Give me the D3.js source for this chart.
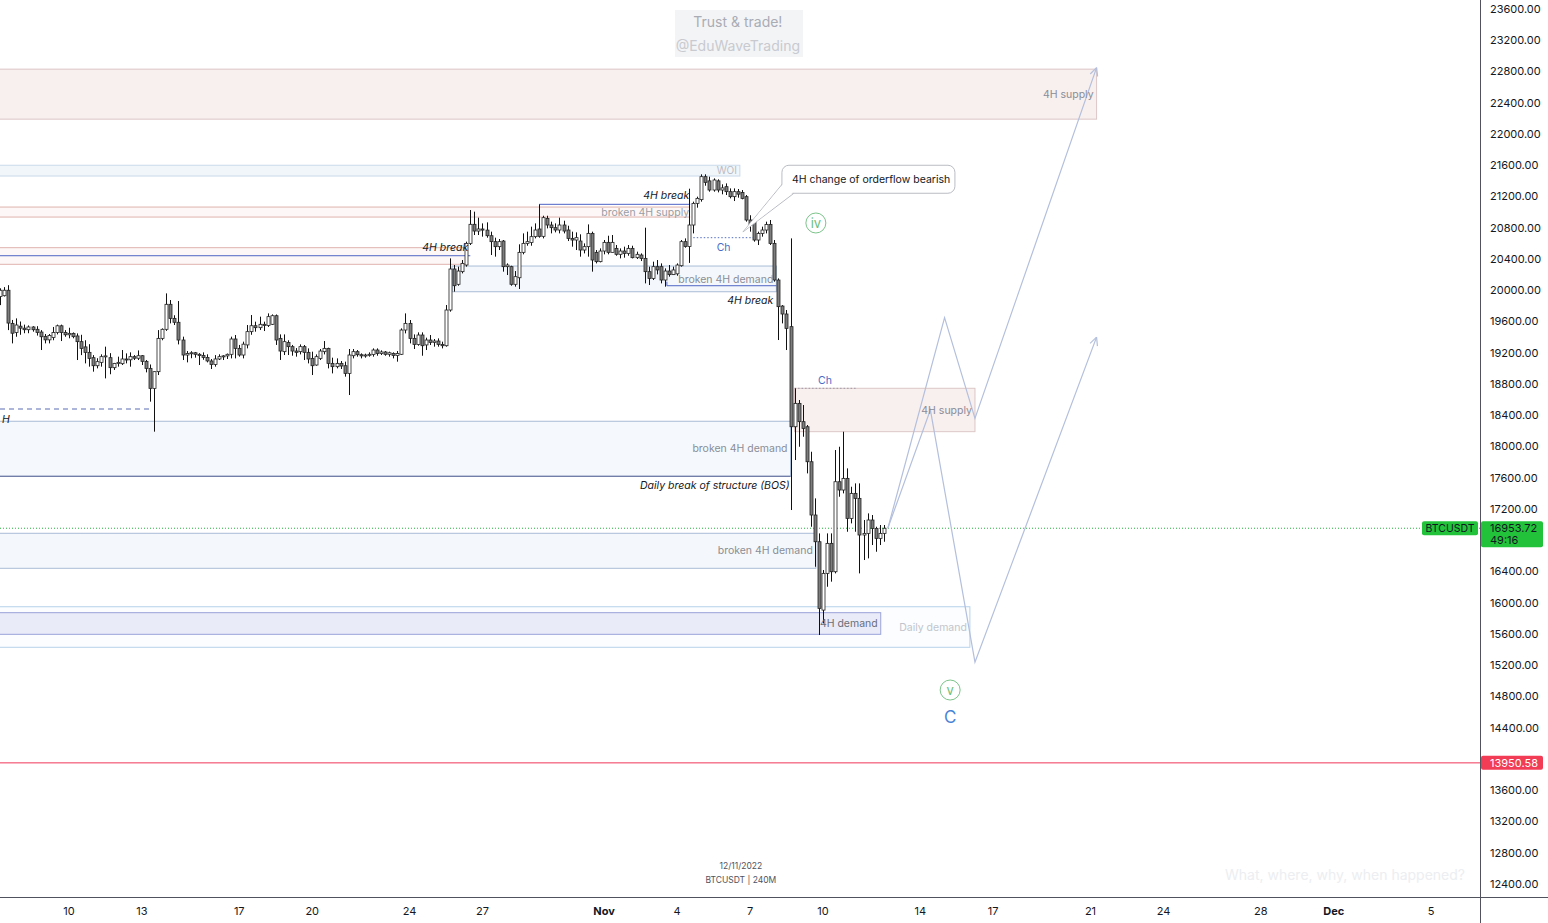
<!DOCTYPE html>
<html><head><meta charset="utf-8">
<script src="https://cdn.jsdelivr.net/npm/d3@7"></script>
<style>
html,body{margin:0;padding:0;background:#fff;}
svg{display:block;font-family:Inter,"Noto Sans",Roboto,sans-serif;}
</style></head><body>
<svg id="chart" width="1548" height="923"></svg>
<script>
// ---------------- DATA ----------------
const symbol = "BTCUSDT";
const candleStart = "2022-10-07T04:00:00Z";   // first 4h bar
const candleHours = 4;
// [open, high, low, close]
const ohlc = [
[19920,20025,19810,20000],[19930,20040,19920,20000],[20000,20065,19490,19580],[19576,19620,19320,19450],
[19460,19640,19405,19555],[19540,19600,19430,19515],[19515,19560,19450,19495],[19495,19550,19450,19530],
[19530,19540,19470,19495],[19500,19540,19420,19460],[19465,19490,19235,19405],[19410,19440,19320,19365],
[19365,19440,19320,19420],[19395,19530,19360,19460],[19460,19560,19435,19545],[19545,19560,19350,19460],
[19460,19490,19405,19430],[19430,19520,19385,19448],[19448,19460,19385,19406],[19415,19448,19107,19342],
[19342,19430,19170,19256],[19275,19360,19064,19205],[19205,19310,19022,19128],[19137,19170,18958,19034],
[19034,19130,19000,19086],[19077,19180,19022,19150],[19150,19278,18872,19160],[19137,19195,18925,19009],
[19009,19070,18980,19064],[19064,19150,19022,19077],[19060,19235,19043,19120],[19120,19192,19064,19110],
[19110,19205,19022,19150],[19150,19170,19107,19130],[19130,19230,19107,19162],[19162,19170,19043,19090],
[19090,19107,18949,19000],[19000,19050,18574,18744],[18744,18960,18190,18958],[18958,19490,18915,19384],
[19384,19512,19360,19500],[19500,19960,19480,19820],[19820,19875,19576,19640],[19640,19680,19555,19590],
[19590,19862,19307,19363],[19363,19406,19107,19171],[19171,19222,19077,19190],[19190,19220,19130,19200],
[19200,19210,19137,19180],[19180,19195,19043,19165],[19165,19205,19110,19140],[19140,19180,19077,19095],
[19095,19120,18992,19050],[19050,19170,19022,19120],[19120,19180,19107,19150],[19150,19170,19107,19160],
[19160,19190,19120,19180],[19180,19406,19128,19376],[19376,19427,19128,19256],[19256,19300,19150,19171],
[19171,19342,19128,19310],[19300,19555,19256,19470],[19470,19683,19430,19546],[19546,19598,19470,19521],
[19521,19662,19491,19564],[19564,19598,19478,19550],[19550,19704,19530,19662],[19564,19691,19555,19674],
[19674,19690,19300,19363],[19384,19435,19108,19222],[19214,19435,19171,19342],[19330,19360,19171,19278],
[19278,19300,19162,19222],[19222,19260,19150,19205],[19214,19307,19179,19278],[19278,19299,19107,19205],
[19205,19256,19064,19120],[19128,19214,18915,19034],[19043,19179,19034,19150],[19128,19248,19107,19222],
[19214,19350,19179,19256],[19256,19265,19000,19064],[19064,19137,18936,19022],[19022,19128,19000,19064],
[19064,19094,18992,19030],[19034,19086,18894,18936],[18936,19248,18659,19171],[19162,19248,19128,19214],
[19214,19235,19150,19175],[19175,19192,19128,19160],[19160,19188,19137,19171],[19171,19205,19150,19180],
[19179,19256,19150,19235],[19235,19256,19162,19190],[19190,19231,19171,19210],[19210,19222,19162,19180],
[19180,19214,19150,19200],[19192,19205,19128,19165],[19165,19222,19086,19190],[19180,19512,19171,19491],
[19491,19704,19448,19576],[19576,19619,19320,19384],[19384,19435,19248,19307],[19307,19461,19290,19427],
[19427,19461,19162,19290],[19300,19393,19235,19363],[19363,19427,19299,19333],[19333,19376,19278,19350],
[19350,19384,19278,19307],[19307,19342,19256,19290],[19290,19811,19278,19747],[19747,20408,19726,20272],
[20272,20323,19982,20058],[20076,20302,20058,20246],[20238,20387,20216,20344],[20323,20622,20302,20600],
[20600,21027,20579,20844],[20844,21006,20707,20758],[20758,20929,20707,20784],[20784,20856,20686,20770],
[20770,20869,20673,20698],[20698,20750,20451,20622],[20622,20673,20430,20558],[20558,20656,20515,20622],
[20630,20643,20238,20302],[20302,20344,20195,20323],[20302,20314,20058,20076],[20076,20246,20046,20174],
[20160,20588,20016,20485],[20485,20728,20460,20600],[20600,20750,20570,20622],[20610,20814,20570,20686],
[20686,20856,20664,20771],[20784,21100,20673,20690],[20690,20954,20664,20929],[20920,20954,20792,20835],
[20835,20878,20728,20801],[20801,20856,20741,20771],[20771,20929,20728,20835],[20835,20890,20728,20758],
[20771,20826,20630,20664],[20664,20750,20558,20643],[20643,20741,20515,20673],[20630,20716,20430,20515],
[20515,20600,20472,20558],[20558,20843,20430,20728],[20728,20750,20238,20387],[20485,20515,20344,20366],
[20366,20536,20357,20502],[20502,20643,20460,20613],[20613,20698,20460,20485],[20485,20707,20485,20613],
[20536,20579,20442,20460],[20460,20536,20408,20502],[20502,20558,20417,20472],[20472,20579,20442,20536],
[20536,20570,20408,20417],[20417,20494,20400,20460],[20451,20472,20374,20408],[20408,20801,20088,20238],
[20238,20302,20067,20152],[20152,20366,20131,20302],[20302,20387,20203,20260],[20302,20344,20088,20131],
[20131,20280,20046,20246],[20246,20323,20174,20200],[20200,20302,20195,20260],[20210,20344,20186,20323],
[20314,20643,20302,20622],[20622,20664,20545,20560],[20560,21300,20350,20835],[20835,21134,20728,21112],
[21112,21198,21057,21176],[21160,21484,21134,21454],[21454,21484,21338,21381],[21400,21454,21262,21283],
[21283,21432,21262,21411],[21400,21420,21253,21283],[21283,21356,21228,21310],[21326,21368,21219,21262],
[21262,21304,21176,21198],[21198,21304,21142,21262],[21262,21296,21185,21230],[21250,21283,21164,21176],
[21198,21219,20878,20899],[20899,20960,20750,20835],[20899,20920,20622,20643],[20643,20750,20579,20728],
[20728,20814,20686,20771],[20771,20878,20728,20843],[20843,20899,20579,20600],[20600,20643,20110,20131],
[20131,20152,19363,19790],[19798,19810,19576,19696],[19696,19747,19235,19512],[19534,20664,17187,18253],
[18253,18744,17827,18552],[18552,18595,17997,18318],[18318,18531,18125,18232],[18253,18275,17656,17805],
[17805,17933,16973,17123],[17123,17336,16461,16781],[16781,16888,15587,15928],[15906,16419,15736,16376],
[16376,16888,16205,16760],[16760,16888,16270,16397],[16397,17955,16376,17549],[17549,17997,17357,17443],
[17443,18189,17400,17592],[17592,17720,16909,17080],[17080,17485,17016,17400],[17400,17528,16909,17336],
[17336,17528,16376,16867],[16867,17059,16547,16888],[16888,17144,16568,17059],[17059,17123,16739,16952],
[16952,16973,16653,16824],[16824,16995,16739,16888],[16888,16995,16781,16953.72]
];
const lastPrice = 16953.72;
const countdown = "49:16";
const alertLevel = 13950.58;

const priceTicks = [12400,12800,13200,13600,14000,14400,14800,15200,15600,16000,16400,16800,17200,17600,18000,18400,18800,19200,19600,20000,20400,20800,21200,21600,22000,22400,22800,23200,23600];
const hiddenPriceTicks = [14000,16800]; // covered by price labels
const timeTickDates  = ["2022-10-10","2022-10-13","2022-10-17","2022-10-20","2022-10-24","2022-10-27","2022-11-01","2022-11-04","2022-11-07","2022-11-10","2022-11-14","2022-11-17","2022-11-21","2022-11-24","2022-11-28","2022-12-01","2022-12-05"];
const timeTickLabels = ["10","13","17","20","24","27","Nov","4","7","10","14","17","21","24","28","Dec","5"];

// zones: [label, kind, fromDate, toDate, topPrice, bottomPrice]
const zoneNames  = ["4H supply","WOI","broken 4H demand","4H supply","broken 4H demand","broken 4H demand","Daily demand","4H demand"];
const zoneKinds  = ["supply","woi","demand","supply","demandBig","demand","daily","demand4h"];
const zoneFrom   = ["2022-10-01T00:00Z","2022-10-01T00:00Z","2022-10-25T18:00Z","2022-11-08T20:00Z","2022-10-01T00:00Z","2022-10-01T00:00Z","2022-10-01T00:00Z","2022-10-01T00:00Z"];
const zoneTo     = ["2022-11-21T06:00Z","2022-11-06T14:00Z","2022-11-08T02:00Z","2022-11-16T06:00Z","2022-11-08T16:00Z","2022-11-09T17:00Z","2022-11-16T01:00Z","2022-11-12T09:00Z"];
const zoneTop    = [22830,21600,20310,18745,18323,16889,15949,15873];
const zoneBottom = [22190,21462,19981,18190,17619,16441,15430,15596];

// pink level pairs (broken supply): [from, to, top, bottom]
const supplyLineFrom = ["2022-10-01T00:00Z","2022-10-01T00:00Z"];
const supplyLineTo   = ["2022-11-04T13:00Z","2022-10-26T10:00Z"];
const supplyLineTop  = [21065,20545];
const supplyLineBot  = [20937,20332];

// structure break lines (blue)
const breakFrom  = ["2022-10-29T08:00Z","2022-10-01T00:00Z","2022-11-03T14:00Z"];
const breakTo    = ["2022-11-04T13:00Z","2022-10-26T12:00Z","2022-11-08T02:00Z"];
const breakPrice = [21100,20442,20058];

// change of character (dotted)
const chFrom  = ["2022-11-04T16:00Z","2022-11-08T20:00Z"];
const chTo    = ["2022-11-07T03:00Z","2022-11-11T10:00Z"];
const chPrice = [20673,18745];

// projected paths
const pathA_dates  = ["2022-11-12T16:00Z","2022-11-15T00:00Z","2022-11-16T06:00Z","2022-11-21T06:00Z"];
const pathA_prices = [16953,19650,18360,22850];
const pathB_dates  = ["2022-11-12T16:00Z","2022-11-14T10:00Z","2022-11-16T06:00Z","2022-11-21T06:00Z"];
const pathB_prices = [16953,18470,15240,19400];

// wave labels
const waveLabels = ["iv","v"];
const waveDates  = ["2022-11-09T17:00Z","2022-11-15T05:30Z"];
const wavePrices = [20861,14883];

// ---------------- CHART ----------------
const W = 1548, H = 923, plotR = 1480, plotB = 897;
const svg = d3.select("#chart");
const x = d3.scaleUtc().domain([new Date("2022-10-10T00:00Z"), new Date("2022-12-05T00:00Z")]).range([69, 1431]);
const y = d3.scaleLinear().domain([12400, 23600]).range([884, 9]);
const D = s => new Date(s);

svg.append("rect").attr("width", W).attr("height", H).attr("fill", "#fff");
svg.append("defs").append("clipPath").attr("id","plot").append("rect").attr("x",0).attr("y",0).attr("width",plotR).attr("height",plotB);
const g = svg.append("g").attr("clip-path","url(#plot)");

// watermark box
const wm = g.append("g");
wm.append("rect").attr("x", x(D("2022-11-04T00:00Z"))-2).attr("y", 10).attr("width",128).attr("height",47).attr("fill","#f3f4f6");
wm.append("text").attr("x", x(D("2022-11-06T12:00Z"))).attr("y", 27).attr("text-anchor","middle").attr("font-size",14).attr("fill","#a9acb4").text("Trust & trade!");
wm.append("text").attr("x", x(D("2022-11-06T12:00Z"))).attr("y", 51).attr("text-anchor","middle").attr("font-size",14).attr("fill","#c8cad0").text("@EduWaveTrading");

// zones
const zoneStyle = {
  supply:   {fill:"#f8efef", stroke:"#dcc6c6", text:"#8a8d96"},
  woi:      {fill:"#f1f6fb", stroke:"#c9d9ea", text:"#b9bcc4"},
  demand:   {fill:"#f4f8fc", stroke:"#a9bcd6", text:"#8a8d96"},
  demandBig:{fill:"#f5f9fd", stroke:"#a9bcd6", text:"#8a8d96"},
  daily:    {fill:"#fbfdff", stroke:"#b7d3ea", text:"#c2c5cc"},
  demand4h: {fill:"#e9ebf9", stroke:"#9aa3d8", text:"#6b6e78"}
};
zoneNames.forEach((nm,i)=>{
  const st = zoneStyle[zoneKinds[i]];
  const x0 = x(D(zoneFrom[i])), x1 = x(D(zoneTo[i]));
  const y0 = y(zoneTop[i]), y1 = y(zoneBottom[i]);
  g.append("rect").attr("x",x0).attr("y",y0).attr("width",x1-x0).attr("height",y1-y0)
    .attr("fill",st.fill).attr("stroke",st.stroke).attr("stroke-width",1);
});

// broken supply line pairs
supplyLineTop.forEach((tp,i)=>{
  const x0 = x(D(supplyLineFrom[i])), x1 = x(D(supplyLineTo[i]));
  g.append("rect").attr("x",x0).attr("y",y(tp)).attr("width",x1-x0).attr("height",y(supplyLineBot[i])-y(tp)).attr("fill","#fdf8f7");
  [tp, supplyLineBot[i]].forEach(p=>{
    g.append("line").attr("x1",x0).attr("x2",x1).attr("y1",y(p)).attr("y2",y(p)).attr("stroke","#dfb2ad").attr("stroke-width",1);
  });
});
// BOS line
g.append("line").attr("x1",0).attr("x2",x(D(zoneTo[4]))).attr("y1",y(zoneBottom[4])).attr("y2",y(zoneBottom[4])).attr("stroke","#5a6396").attr("stroke-width",1.2);

// break lines
breakPrice.forEach((p,i)=>{
  g.append("line").attr("x1",x(D(breakFrom[i]))).attr("x2",x(D(breakTo[i]))).attr("y1",y(p)).attr("y2",y(p)).attr("stroke","#4f63c4").attr("stroke-width",1);
});
g.append("line").attr("x1",x(D(breakFrom[2]))).attr("x2",x(D(breakFrom[2]))).attr("y1",y(20110)).attr("y2",y(breakPrice[2])).attr("stroke","#4f63c4");

// dashed level
g.append("line").attr("x1",0).attr("x2",x(D("2022-10-13T08:00Z"))).attr("y1",y(18480)).attr("y2",y(18480))
  .attr("stroke","#5b6db5").attr("stroke-dasharray","5,4");

// ch dotted lines
chPrice.forEach((p,i)=>{
  g.append("line").attr("x1",x(D(chFrom[i]))).attr("x2",x(D(chTo[i]))).attr("y1",y(p)).attr("y2",y(p))
    .attr("stroke",i===0?"#5470c6":"#9a9aa8").attr("stroke-dasharray","1.5,2");
});

// alert line
g.append("line").attr("x1",0).attr("x2",plotR).attr("y1",y(alertLevel)).attr("y2",y(alertLevel)).attr("stroke","#f0365a").attr("stroke-width",1);
// last price dotted line
g.append("line").attr("x1",0).attr("x2",plotR).attr("y1",y(lastPrice)).attr("y2",y(lastPrice)).attr("stroke","#26b33c").attr("stroke-dasharray","1,2");

// candles
const t0 = D(candleStart).getTime();
const step = candleHours*3600*1000;
const cg = g.append("g");
ohlc.forEach((d,i)=>{
  const [o,h,l,c] = d;
  const cx = Math.round(x(new Date(t0+i*step)));
  cg.append("line").attr("x1",cx+0.5).attr("x2",cx+0.5).attr("y1",y(h)).attr("y2",y(l)).attr("stroke","#111").attr("stroke-width",1);
  const top = y(Math.max(o,c)), bot = y(Math.min(o,c));
  cg.append("rect").attr("x",cx-1).attr("y",top).attr("width",3).attr("height",Math.max(1,bot-top))
    .attr("fill", c>=o ? "#ffffff" : "#7d7d7d").attr("stroke","#222").attr("stroke-width",0.8);
});

// projected paths
const line = d3.line().x(d=>x(D(d[0]))).y(d=>y(d[1]));
function drawPath(dates, prices){
  const pts = dates.map((d,i)=>[d,prices[i]]);
  g.append("path").attr("d",line(pts)).attr("fill","none").attr("stroke","#b3bfdc").attr("stroke-width",1.2);
  const a = pts[pts.length-2], b = pts[pts.length-1];
  const ax = x(D(a[0])), ay = y(a[1]), bx = x(D(b[0])), by = y(b[1]);
  const ang = Math.atan2(by-ay, bx-ax);
  const L = 9;
  [0.45,-0.45].forEach(s=>{
    g.append("line").attr("x1",bx).attr("y1",by).attr("x2",bx-L*Math.cos(ang+s)).attr("y2",by-L*Math.sin(ang+s)).attr("stroke","#b3bfdc").attr("stroke-width",1.2);
  });
}
drawPath(pathA_dates, pathA_prices);
drawPath(pathB_dates, pathB_prices);

// zone labels
const lab = g.append("g").attr("font-size",10.5);
function label(txt, date, price, anchor, color, italic, dy){
  lab.append("text").attr("x",x(D(date))).attr("y",y(price)).attr("dy",dy||"0.35em").attr("text-anchor",anchor)
    .attr("fill",color).attr("font-style",italic?"italic":"normal").text(txt);
}
zoneNames.forEach((nm,i)=>{
  const st = zoneStyle[zoneKinds[i]];
  const t = lab.append("text").attr("x",x(D(zoneTo[i]))-3).attr("y",(y(zoneTop[i])+y(zoneBottom[i]))/2).attr("dy","0.35em")
    .attr("text-anchor","end").attr("fill",st.text).text(nm);
  if (zoneKinds[i]==="woi") t.attr("font-size",10);
});
label("broken 4H supply","2022-11-04T12:00Z",(supplyLineTop[0]+supplyLineBot[0])/2,"end","#9a9da5");
label("4H break","2022-11-04T12:00Z",21215,"end","#131722",true);
label("4H break","2022-10-26T10:00Z",20555,"end","#131722",true);
label("4H break","2022-11-07T23:00Z",19870,"end","#131722",true);
label("Daily break of structure (BOS)","2022-11-08T15:00Z",17500,"end","#131722",true);
label("H","2022-10-07T06:00Z",18350,"start","#131722",true);
label("Ch","2022-11-05T22:00Z",20550,"middle","#4a6bc8");
label("Ch","2022-11-10T02:00Z",18850,"middle","#4a6bc8");

// callout
const cbx = x(D("2022-11-08T07:30Z")), cby = y(21600);
const tipx = x(D("2022-11-06T17:00Z")), tipy = y(20746);
const cw = 173, ch = 28;
g.append("path").attr("d",`M${cbx+1},${cby+18} L${tipx},${tipy} L${cbx+12},${cby+ch}`).attr("fill","#fff").attr("stroke","#b9bcc4");
g.append("rect").attr("x",cbx).attr("y",cby).attr("width",cw).attr("height",ch).attr("rx",7).attr("fill","#fff").attr("stroke","#b9bcc4");
g.append("path").attr("d",`M${cbx+1},${cby+19} L${tipx+2},${tipy-2} L${cbx+11},${cby+ch-0.5}`).attr("fill","#fff").attr("stroke","none");
g.append("text").attr("x",cbx+10).attr("y",cby+ch/2).attr("dy","0.35em").attr("font-size",10.5).attr("fill","#131722").text("4H change of orderflow bearish");

// wave labels
waveLabels.forEach((w,i)=>{
  const cx = x(D(waveDates[i])), cy = y(wavePrices[i]);
  g.append("circle").attr("cx",cx).attr("cy",cy).attr("r",10).attr("fill","none").attr("stroke","#7cc48a").attr("stroke-width",1);
  g.append("text").attr("x",cx).attr("y",cy).attr("dy","0.35em").attr("text-anchor","middle").attr("font-size",13).attr("fill","#6cbf7c").text(w);
});
g.append("text").attr("x",x(D(waveDates[1]))).attr("y",y(14538)).attr("dy","0.35em").attr("text-anchor","middle").attr("font-size",17).attr("fill","#4a84d6").text("C");

// footer texts
g.append("text").attr("x",x(D("2022-11-06T15:00Z"))).attr("y",869).attr("text-anchor","middle").attr("font-size",8.5).attr("fill","#50535e").text("12/11/2022");
g.append("text").attr("x",x(D("2022-11-06T15:00Z"))).attr("y",883).attr("text-anchor","middle").attr("font-size",8.5).attr("fill","#50535e").text(symbol+" | 240M");
g.append("text").attr("x",1465).attr("y",880).attr("text-anchor","end").attr("font-size",14).attr("fill","#eceef1").text("What, where, why, when happened?");

// ---------------- AXES ----------------
const ya = svg.append("g");
priceTicks.filter(p=>!hiddenPriceTicks.includes(p)).forEach(p=>{
  ya.append("text").attr("x",1490).attr("y",y(p)).attr("dy","0.35em").attr("font-size",11).attr("fill","#131722").text(p.toFixed(2));
});
const xa = svg.append("g");
timeTickDates.forEach((d,i)=>{
  const bold = isNaN(+timeTickLabels[i]);
  xa.append("text").attr("x",x(D(d+"T00:00Z"))).attr("y",911).attr("dy","0.35em").attr("text-anchor","middle")
    .attr("font-size",11).attr("font-weight",bold?"bold":"normal").attr("fill","#131722").text(timeTickLabels[i]);
});
svg.append("line").attr("x1",plotR+0.5).attr("x2",plotR+0.5).attr("y1",0).attr("y2",H).attr("stroke","#50535e");
svg.append("line").attr("x1",0).attr("x2",W).attr("y1",plotB+0.5).attr("y2",plotB+0.5).attr("stroke","#50535e");

// price labels
const green = "#22c33a";
svg.append("rect").attr("x",1481).attr("y",y(lastPrice)-7).attr("width",62).attr("height",26).attr("rx",2).attr("fill",green);
svg.append("text").attr("x",1490).attr("y",y(lastPrice)).attr("dy","0.35em").attr("font-size",11).attr("fill","#131722").text(lastPrice.toFixed(2));
svg.append("text").attr("x",1490).attr("y",y(lastPrice)+12).attr("dy","0.35em").attr("font-size",11).attr("fill","#131722").text(countdown);
svg.append("rect").attr("x",1422).attr("y",y(lastPrice)-7).attr("width",56).attr("height",14).attr("rx",2).attr("fill",green);
svg.append("text").attr("x",1450).attr("y",y(lastPrice)).attr("dy","0.35em").attr("text-anchor","middle").attr("font-size",10.5).attr("fill","#131722").text(symbol);
svg.append("rect").attr("x",1481).attr("y",y(alertLevel)-7).attr("width",62).attr("height",14).attr("rx",2).attr("fill","#f23b55");
svg.append("text").attr("x",1490).attr("y",y(alertLevel)).attr("dy","0.35em").attr("font-size",11).attr("fill","#fff").text(alertLevel.toFixed(2));
</script>
</body></html>
